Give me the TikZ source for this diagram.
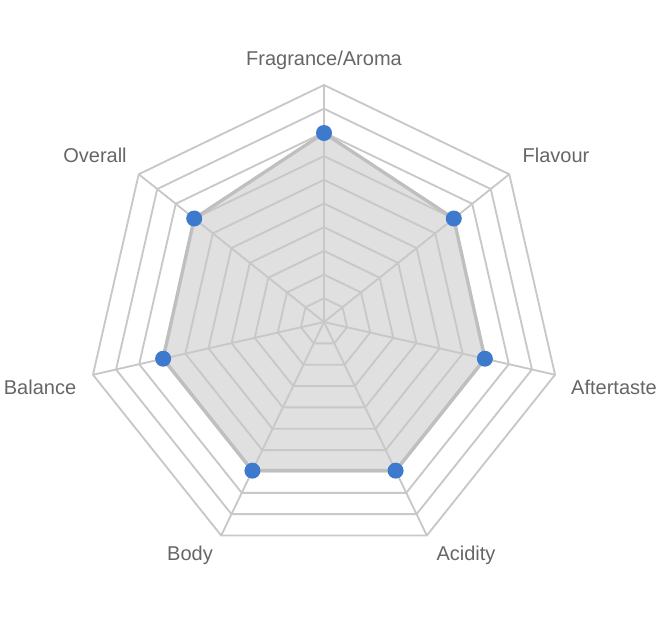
\documentclass[tikz,border=0pt]{standalone}
\usepackage{fontspec}
\setmainfont{Liberation Sans}
\usetikzlibrary{calc}
\definecolor{gridgrey}{HTML}{C8C8C8}
\definecolor{labelgrey}{HTML}{666666}
\definecolor{pointblue}{HTML}{3D7ACD}
\tikzset{
  grid line/.style={draw=gridgrey, line width=1.4pt},
  axis label/.style={text=labelgrey, font=\fontsize{15}{18}\selectfont},
  score dot/.style={circle, fill=pointblue, inner sep=0pt, minimum size=12pt},
}
\begin{document}
\begin{tikzpicture}[x=0.75pt,y=-0.75pt]
    \useasboundingbox (0,0) rectangle (666,643);
    \coordinate (C) at (324,322);

    % Ring corners and score points
    \foreach \i in {0,...,6} {
      \foreach \k in {1,...,10}
        \coordinate (r\k-\i) at ($(C)+({23.7*\k*sin(\i*360/7)},{-23.7*\k*cos(\i*360/7)})$);
    }
    \foreach \r [count=\i from 0] in {189,166,165,165,165,165,166}
      \coordinate (s\i) at ($(C)+({\r*sin(\i*360/7)},{-\r*cos(\i*360/7)})$);

    % Filled score area
    \fill[black!12] (s0) -- (s1) -- (s2) -- (s3) -- (s4) -- (s5) -- (s6) -- cycle;

    % Rings and spokes
    \foreach \k in {1,...,10}
      \draw[grid line] (r\k-0) -- (r\k-1) -- (r\k-2) -- (r\k-3) -- (r\k-4) -- (r\k-5) -- (r\k-6) -- cycle;
    \foreach \i in {0,...,6}
      \draw[grid line] (C) -- (r10-\i);

    % Score outline and dots
    \draw[black!25, line width=2.5pt, line join=round]
      (s0) -- (s1) -- (s2) -- (s3) -- (s4) -- (s5) -- (s6) -- cycle;
    \foreach \i in {0,...,6}
      \node[score dot] (p\i) at (s\i) {};

    % Labels
    \node[axis label] (fragrance) at (324,60) {Fragrance/Aroma};
    \node[axis label] (flavour) at (556,155) {Flavour};
    \node[axis label] (aftertaste) at (614,387) {Aftertaste};
    \node[axis label] (acidity) at (466,555) {Acidity};
    \node[axis label] (body) at (190,555) {Body};
    \node[axis label] (balance) at (40,387) {Balance};
    \node[axis label] (overall) at (95,155) {Overall};
\end{tikzpicture}
\end{document}
